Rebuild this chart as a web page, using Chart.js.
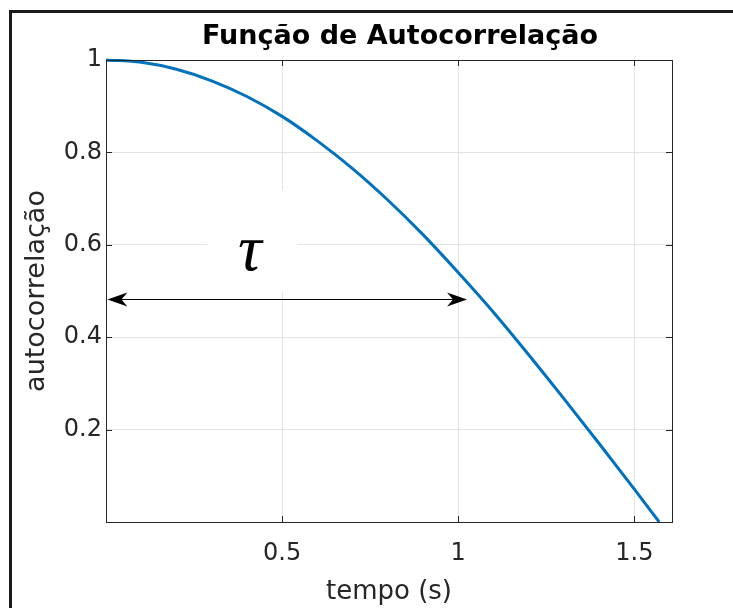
<!DOCTYPE html>
<html>

<head>
  <meta charset="utf-8">
  <style>
    body { margin: 0; background: #fff; }
    #wrap { position: relative; width: 733px; height: 608px; }
  </style>
</head>

<body>

  <div id="wrap">
    <canvas id="myChart"></canvas>
  </div>

  <script src="https://cdn.jsdelivr.net/npm/chart.js@4.4.0/dist/chart.umd.min.js"></script>
  <script type="text/javascript">
    // autocorrelation samples (tempo in s)
    var tempo = [0, 0.1, 0.2, 0.3, 0.4, 0.5, 0.6, 0.7, 0.8, 0.9, 1.0, 1.1, 1.2, 1.3, 1.4, 1.5, 1.5708];
    var autocorr = [1.000, 0.995, 0.980, 0.955, 0.921, 0.878, 0.825, 0.765, 0.697, 0.622, 0.540, 0.454, 0.362, 0.267, 0.170, 0.071, 0.000];

    var xTicks = [0.5, 1, 1.5];
    var yTicks = [0.2, 0.4, 0.6, 0.8, 1];

    var chartTitle = 'Função de Autocorrelação';

    // tau annotation: arrow span and label spot, in data units
    var tauArrow = [0.004, 1.025];
    var tauArrowY = 0.482;
    var tauLabel = [0.408, 0.582];

    var axisColor = '#262626';

    var boxPlugin = {
      id: 'box',
      beforeDatasetsDraw: function(chart) {
        var ctx = chart.ctx, x = chart.scales.x, y = chart.scales.y;
        // white patch behind the tau label
        ctx.save();
        ctx.fillStyle = '#fff';
        var l = x.getPixelForValue(0.288), r = x.getPixelForValue(0.543);
        var t = y.getPixelForValue(0.718), b = y.getPixelForValue(0.497);
        ctx.fillRect(l, t, r - l, b - t);
        ctx.restore();
      },
      afterDatasetsDraw: function(chart) {
        var ctx = chart.ctx, a = chart.chartArea, x = chart.scales.x, y = chart.scales.y;
        ctx.save();

        // axes box + inward ticks
        ctx.strokeStyle = axisColor;
        ctx.lineWidth = 1;
        ctx.strokeRect(Math.round(a.left) + 0.5, Math.round(a.top) + 0.5, Math.round(a.right - a.left), Math.round(a.bottom - a.top));
        ctx.beginPath();
        xTicks.forEach(function(v) {
          var px = Math.round(x.getPixelForValue(v)) + 0.5;
          ctx.moveTo(px, a.bottom); ctx.lineTo(px, a.bottom - 6);
          ctx.moveTo(px, a.top); ctx.lineTo(px, a.top + 6);
        });
        yTicks.forEach(function(v) {
          var py = Math.round(y.getPixelForValue(v)) + 0.5;
          ctx.moveTo(a.left, py); ctx.lineTo(a.left + 6, py);
          ctx.moveTo(a.right, py); ctx.lineTo(a.right - 6, py);
        });
        ctx.stroke();

        // double arrow
        var x0 = x.getPixelForValue(tauArrow[0]), x1 = x.getPixelForValue(tauArrow[1]);
        var ay = Math.round(y.getPixelForValue(tauArrowY)) + 0.5;
        ctx.strokeStyle = '#000';
        ctx.beginPath();
        ctx.moveTo(x0 + 10, ay); ctx.lineTo(x1 - 10, ay);
        ctx.stroke();
        ctx.fillStyle = '#000';
        [[x0, 1], [x1, -1]].forEach(function(h) {
          var tip = h[0], d = h[1];
          ctx.beginPath();
          ctx.moveTo(tip, ay);
          ctx.lineTo(tip + d * 20, ay - 7);
          ctx.lineTo(tip + d * 14, ay);
          ctx.lineTo(tip + d * 20, ay + 7);
          ctx.closePath();
          ctx.fill();
        });

        // tau label
        ctx.font = 'italic 66px "Liberation Serif"';
        ctx.textAlign = 'center';
        ctx.textBaseline = 'middle';
        ctx.fillText('\u03C4', x.getPixelForValue(tauLabel[0]), y.getPixelForValue(tauLabel[1]));

        ctx.restore();
      },
      afterDraw: function(chart) {
        var ctx = chart.ctx;
        ctx.save();

        // title
        ctx.fillStyle = '#000';
        ctx.font = 'bold 27px "DejaVu Sans"';
        ctx.textAlign = 'center';
        ctx.textBaseline = 'alphabetic';
        ctx.fillText(chartTitle, 400, 43.5);

        // figure frame, top and left edges
        ctx.strokeStyle = '#1a1a1a';
        ctx.lineWidth = 3;
        ctx.beginPath();
        ctx.moveTo(10.5, chart.height);
        ctx.lineTo(10.5, 11.5);
        ctx.lineTo(chart.width, 11.5);
        ctx.stroke();
        ctx.restore();
      }
    };

    var points = tempo.map(function(t, i) { return { x: t, y: autocorr[i] }; });

    var ctx = document.getElementById('myChart').getContext('2d');
    var chart = new Chart(ctx, {
      type: 'line',
      data: {
        datasets: [{
          data: points,
          borderColor: '#0072BD',
          borderWidth: 3,
          pointRadius: 0,
          fill: false,
          cubicInterpolationMode: 'monotone',
          clip: false
        }]
      },
      options: {
        responsive: true,
        maintainAspectRatio: false,
        animation: false,
        layout: { padding: { top: 60, left: 0, right: 61, bottom: 0 } },
        plugins: {
          legend: { display: false },
          tooltip: { enabled: false },
          title: { display: false }
        },
        scales: {
          x: {
            type: 'linear',
            min: 0,
            max: 1.607,
            afterFit: function(s) { s.height = 86; },
            afterBuildTicks: function(s) { s.ticks = xTicks.map(function(v) { return { value: v }; }); },
            grid: { color: '#e3e3e3', drawTicks: false },
            border: { display: false },
            ticks: {
              color: axisColor,
              padding: 17,
              maxRotation: 0,
              font: { family: 'DejaVu Sans', size: 24 },
              callback: function(v) { return String(+v.toFixed(2)); }
            },
            title: {
              display: true,
              text: 'tempo (s)',
              color: axisColor,
              font: { family: 'DejaVu Sans', size: 26 },
              padding: { top: 0, bottom: 0 }
            }
          },
          y: {
            min: 0,
            max: 1,
            afterFit: function(s) { s.width = 106; },
            afterBuildTicks: function(s) { s.ticks = yTicks.map(function(v) { return { value: v }; }); },
            grid: { color: '#e3e3e3', drawTicks: false },
            border: { display: false },
            ticks: {
              color: axisColor,
              padding: 4,
              font: { family: 'DejaVu Sans', size: 24 },
              callback: function(v) { return String(+v.toFixed(2)); }
            },
            title: {
              display: true,
              text: 'autocorrelação',
              color: axisColor,
              font: { family: 'DejaVu Sans', size: 27 },
              padding: { top: 21, bottom: 0 }
            }
          }
        }
      },
      plugins: [boxPlugin]
    });
  </script>
</body>

</html>
